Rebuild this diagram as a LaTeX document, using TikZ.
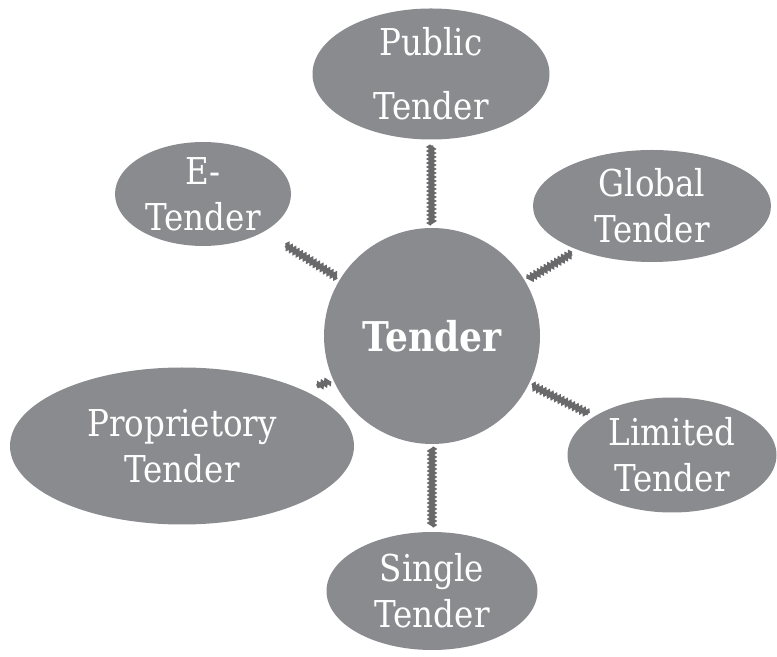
\documentclass[tikz,border=0pt]{standalone}
\usepackage{fontspec}
\usepackage{tikz}
\usetikzlibrary{shapes.geometric}
\usetikzlibrary{decorations.pathmorphing}
\newfontfamily\tenderfont[FakeStretch=0.88]{DejaVu Serif}
\definecolor{tendergray}{RGB}{138,139,143}
\definecolor{ropegray}{RGB}{105,105,108}

\begin{document}
\begin{tikzpicture}[x=0.5pt, y=-0.5pt,
    bubble/.style={ellipse, fill=tendergray, text=white, inner sep=0pt, outer sep=3pt,
        align=center, font=\tenderfont\fontsize{18.5}{23}\selectfont},
    link/.style={draw=ropegray, line width=2pt, decorate,
        decoration={zigzag, segment length=2pt, amplitude=0.8pt}}]
    \useasboundingbox (0,0) rectangle (777,657);
    \node[circle, fill=tendergray, text=white, minimum size=108pt, inner sep=0pt, outer sep=2pt,
        font=\tenderfont\fontsize{20.5}{26}\bfseries] (tender) at (432,336) {Tender};
    \node[bubble, minimum width=118.5pt, minimum height=59pt] (public) at (431,74) {Public\\[9pt]Tender};
    \node[bubble, minimum width=88pt, minimum height=51pt, outer sep=12pt] (etender) at (203,194) {E-\\Tender};
    \node[bubble, minimum width=119pt, minimum height=56pt] (global) at (652,206) {Global\\Tender};
    \node[bubble, minimum width=172pt, minimum height=78.5pt, outer sep=5pt] (propr) at (182,446) {Proprietory\\Tender};
    \node[bubble, minimum width=104.5pt, minimum height=57.5pt] (limited) at (672,455) {Limited\\Tender};
    \node[bubble, minimum width=105.5pt, minimum height=59pt] (single) at (432,591) {Single\\Tender};
    \foreach \n in {public,etender,global,propr,limited,single}
        \draw[link] (tender) -- (\n);
\end{tikzpicture}
\end{document}
